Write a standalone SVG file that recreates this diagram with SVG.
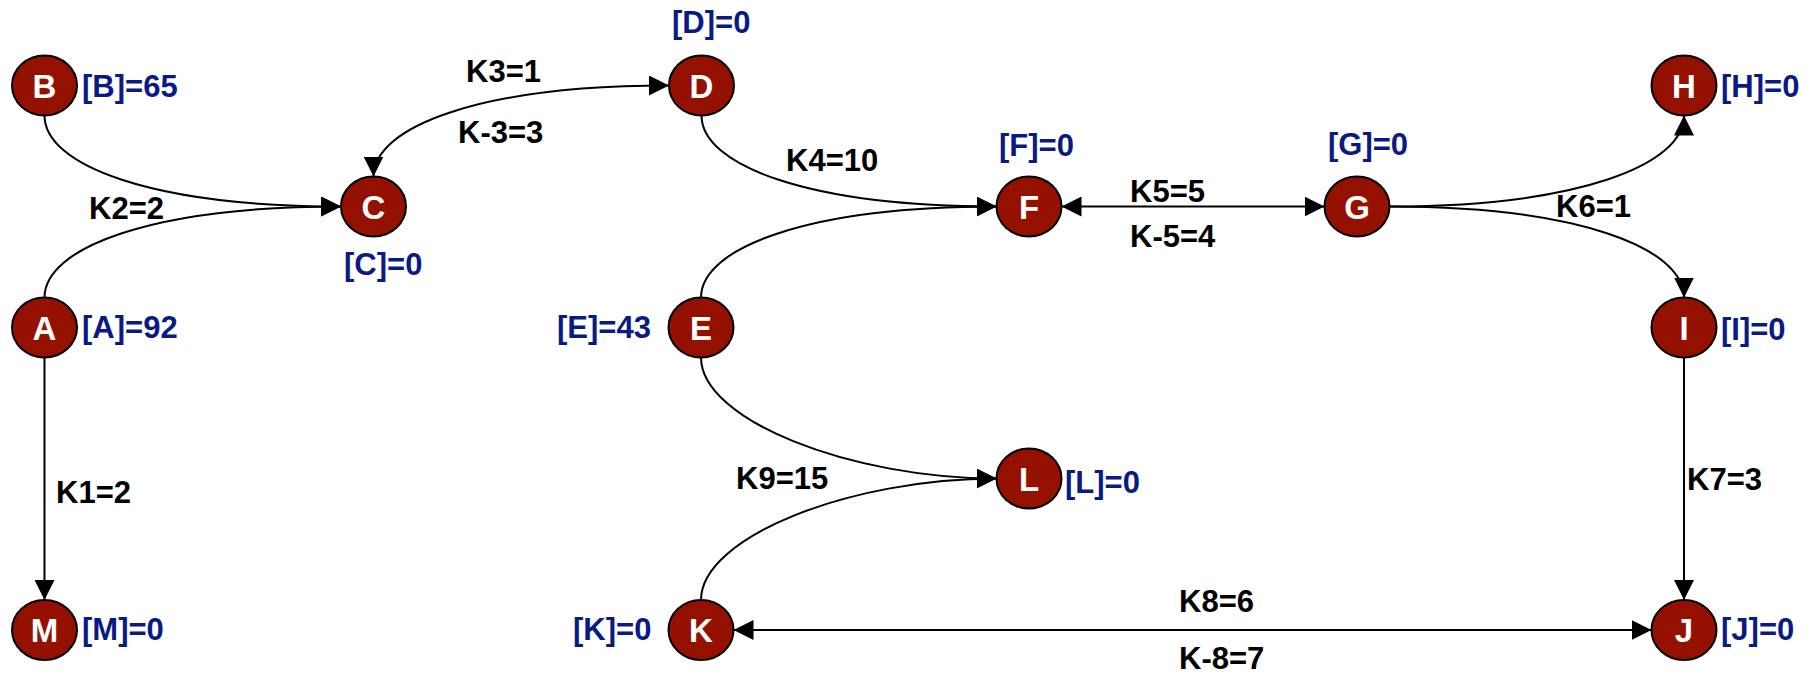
<svg xmlns="http://www.w3.org/2000/svg" width="1805" height="673" viewBox="0 0 1805 673">
  <style>
    .node ellipse { fill: #941100; stroke: #000; stroke-width: 2; }
    .node .letter { fill: #fff; font-family: "Liberation Sans", Arial, sans-serif; font-weight: bold; font-size: 33px; text-anchor: middle; }
    .conc { fill: #0a1a85; font-family: "Liberation Sans", Arial, sans-serif; font-weight: bold; font-size: 31px; }
    .rate { fill: #000; font-family: "Liberation Sans", Arial, sans-serif; font-weight: bold; font-size: 31px; }
    .edge { fill: none; stroke: #000; stroke-width: 2; }
    .one { marker-end: url(#arrow); }
    .two { marker-start: url(#arrow); marker-end: url(#arrow); }
  </style>
  <defs>
    <marker id="arrow" viewBox="0 0 20 20" refX="20" refY="10" markerWidth="20" markerHeight="20" markerUnits="userSpaceOnUse" orient="auto-start-reverse">
      <path d="M0,0 L20,10 L0,20 z" fill="#000"/>
    </marker>
  </defs>
  <rect width="1805" height="673" fill="#fff"/>

  <!-- reactions -->
  <g id="connectors">
    <path class="edge one" d="M44.5,115.5 C44.5,165 150,206.5 341,206.5"/>
    <path class="edge one" d="M44.5,297.5 C44.5,248 150,206.5 341,206.5"/>
    <path class="edge one" d="M44.5,357.5 L44.5,600"/>
    <path class="edge two" d="M373.5,176.5 C373.5,127 479,85.5 669,85.5"/>
    <path class="edge one" d="M701.5,115.5 C701.5,165 807,206.5 996.5,206.5"/>
    <path class="edge one" d="M701,297.5 C701,248 807,206.5 996.5,206.5"/>
    <path class="edge two" d="M1061.5,206.5 L1324.5,206.5"/>
    <path class="edge one" d="M1389.5,206.5 C1578.5,206.5 1684,165 1684,115.5"/>
    <path class="edge one" d="M1389.5,206.5 C1578.5,206.5 1684,248 1684,297.5"/>
    <path class="edge one" d="M1684,357.5 L1684,600"/>
    <path class="edge two" d="M733.5,630 L1651.5,630"/>
    <path class="edge one" d="M701,357.5 C701,420 850,478.5 996.5,478.5"/>
    <path class="edge one" d="M701,600 C701,537 850,478.5 996.5,478.5"/>

    <text class="rate" x="89" y="219">K2=2</text>
    <text class="rate" x="56" y="503">K1=2</text>
    <text class="rate" x="466" y="82">K3=1</text>
    <text class="rate" x="458" y="143">K-3=3</text>
    <text class="rate" x="786" y="171">K4=10</text>
    <text class="rate" x="1130" y="202">K5=5</text>
    <text class="rate" x="1130" y="247">K-5=4</text>
    <text class="rate" x="1556" y="217">K6=1</text>
    <text class="rate" x="1687" y="490">K7=3</text>
    <text class="rate" x="1179" y="612">K8=6</text>
    <text class="rate" x="1179" y="669">K-8=7</text>
    <text class="rate" x="736" y="489">K9=15</text>
  </g>

  <!-- species -->
  <g id="node-B" class="node">
    <ellipse cx="44.5" cy="85.5" rx="32.5" ry="30"/>
    <text class="letter" x="44.5" y="97.5">B</text>
    <text class="conc" x="82" y="97">[B]=65</text>
  </g>
  <g id="node-C" class="node">
    <ellipse cx="373.5" cy="206.5" rx="32.5" ry="30"/>
    <text class="letter" x="373.5" y="218.5">C</text>
    <text class="conc" x="344" y="275">[C]=0</text>
  </g>
  <g id="node-D" class="node">
    <ellipse cx="701.5" cy="85.5" rx="32.5" ry="30"/>
    <text class="letter" x="701.5" y="97.5">D</text>
    <text class="conc" x="672" y="33">[D]=0</text>
  </g>
  <g id="node-F" class="node">
    <ellipse cx="1029" cy="206.5" rx="32.5" ry="30"/>
    <text class="letter" x="1029" y="218.5">F</text>
    <text class="conc" x="999" y="156">[F]=0</text>
  </g>
  <g id="node-G" class="node">
    <ellipse cx="1357" cy="206.5" rx="32.5" ry="30"/>
    <text class="letter" x="1357" y="218.5">G</text>
    <text class="conc" x="1328" y="155">[G]=0</text>
  </g>
  <g id="node-H" class="node">
    <ellipse cx="1684" cy="85.5" rx="32.5" ry="30"/>
    <text class="letter" x="1684" y="97.5">H</text>
    <text class="conc" x="1721" y="97">[H]=0</text>
  </g>
  <g id="node-A" class="node">
    <ellipse cx="44.5" cy="327.5" rx="32.5" ry="30"/>
    <text class="letter" x="44.5" y="339.5">A</text>
    <text class="conc" x="82" y="338">[A]=92</text>
  </g>
  <g id="node-E" class="node">
    <ellipse cx="701" cy="327.5" rx="32.5" ry="30"/>
    <text class="letter" x="701" y="339.5">E</text>
    <text class="conc" x="557" y="338">[E]=43</text>
  </g>
  <g id="node-I" class="node">
    <ellipse cx="1684" cy="327.5" rx="32.5" ry="30"/>
    <text class="letter" x="1684" y="339.5">I</text>
    <text class="conc" x="1721" y="340">[I]=0</text>
  </g>
  <g id="node-L" class="node">
    <ellipse cx="1029" cy="478.5" rx="32.5" ry="30"/>
    <text class="letter" x="1029" y="490.5">L</text>
    <text class="conc" x="1065" y="493">[L]=0</text>
  </g>
  <g id="node-M" class="node">
    <ellipse cx="44.5" cy="630" rx="32.5" ry="30"/>
    <text class="letter" x="44.5" y="642">M</text>
    <text class="conc" x="82" y="640">[M]=0</text>
  </g>
  <g id="node-K" class="node">
    <ellipse cx="701" cy="630" rx="32.5" ry="30"/>
    <text class="letter" x="701" y="642">K</text>
    <text class="conc" x="573" y="640">[K]=0</text>
  </g>
  <g id="node-J" class="node">
    <ellipse cx="1684" cy="630" rx="32.5" ry="30"/>
    <text class="letter" x="1684" y="642">J</text>
    <text class="conc" x="1721" y="640">[J]=0</text>
  </g>
</svg>
